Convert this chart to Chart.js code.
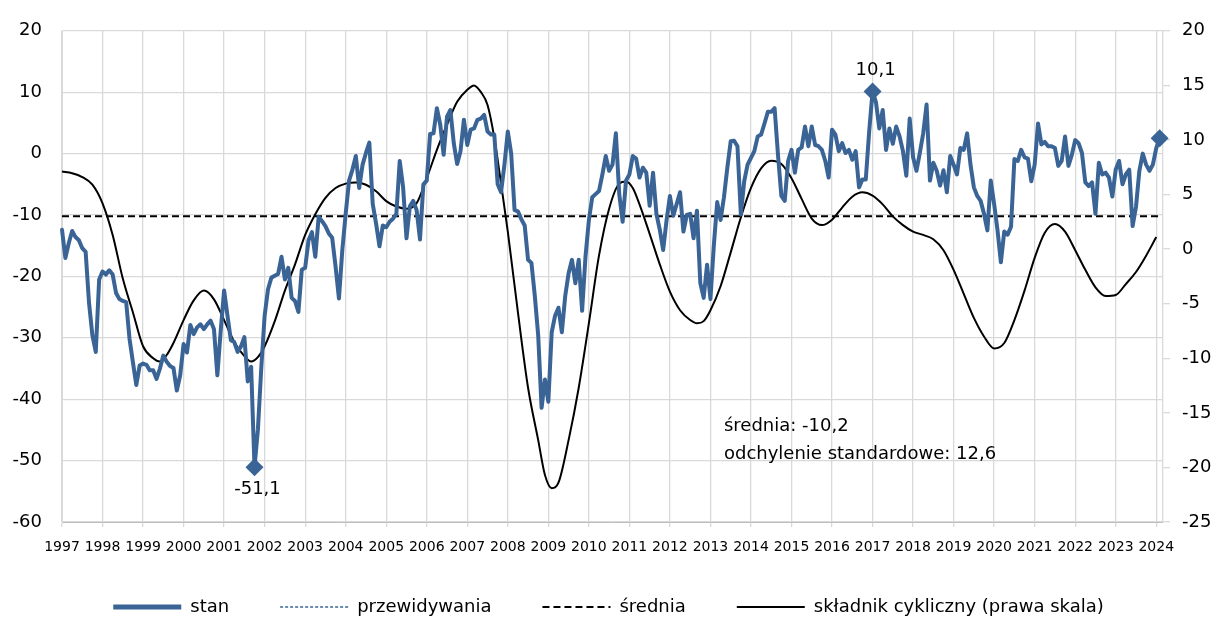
<!DOCTYPE html>
<html>
<head>
<meta charset="utf-8">
<script src="https://cdn.jsdelivr.net/npm/chart.js@4.4.1/dist/chart.umd.min.js"></script>
<style>
  html, body { margin: 0; padding: 0; background: #fff; }
  #wrap { width: 1217px; height: 621px; }
</style>
</head>
<body>
<div id="wrap"><canvas id="chart" width="1217" height="621"></canvas></div>
<script>
// Axis years and the last month on the axis
const years = [1997, 1998, 1999, 2000, 2001, 2002, 2003, 2004, 2005, 2006, 2007, 2008, 2009, 2010,
               2011, 2012, 2013, 2014, 2015, 2016, 2017, 2018, 2019, 2020, 2021, 2022, 2023, 2024];
const lastMonth = '2024-03';

// stan (monthly, from 1997-01), left scale
const stan = [
  -12.4, -17.0, -14.6, -12.6, -13.6, -14.1, -15.4, -16.0, -24.3, -29.6, -32.3, -20.5, // 1997
  -19.2, -19.7, -19.0, -19.7, -22.7, -23.7, -24.0, -24.2, -30.2, -34.0, -37.7, -34.5, // 1998
  -34.2, -34.4, -35.3, -35.3, -36.7, -35.0, -32.9, -33.9, -34.6, -34.9, -38.6, -36.1, // 1999
  -31.0, -32.4, -27.9, -29.4, -28.3, -27.8, -28.6, -27.8, -27.2, -28.6, -36.1, -28.8, // 2000
  -22.3, -26.4, -30.4, -30.7, -32.3, -31.4, -29.9, -37.1, -34.7, -51.1, -45.0, -35.0, // 2001
  -26.4, -22.1, -20.2, -19.9, -19.6, -16.8, -20.5, -18.6, -23.5, -24.0, -25.8, -18.9, // 2002
  -18.6, -14.1, -12.8, -16.8, -10.3, -11.0, -11.8, -13.0, -13.7, -18.4, -23.6, -15.7, // 2003
   -9.8,  -4.4,  -2.6,  -0.4,  -5.6,  -1.8,   0.1,   1.8,  -8.2, -11.4, -15.1, -11.7, // 2004
  -12.0, -11.1, -10.6,  -9.8,  -1.2,  -5.5, -13.8,  -8.6,  -7.7,  -9.2, -14.0,  -5.0, // 2005
   -4.4,   3.2,   3.3,   7.4,   4.7,  -0.2,   6.0,   7.1,   1.7,  -1.7,   0.4,   5.5, // 2006
    1.4,   3.9,   4.1,   5.5,   5.7,   6.3,   3.6,   3.1,   3.1,  -5.0,  -6.3,  -1.8, // 2007
    3.6,   0.0,  -9.2,  -9.4, -10.7, -11.7, -17.3, -17.8, -23.2, -29.6, -41.4, -36.8, // 2008
  -40.4, -29.1, -26.4, -25.1, -29.1, -23.2, -19.5, -17.3, -21.1, -17.3, -25.6, -16.8, // 2009
  -10.9,  -7.1,  -6.6,  -6.1,  -3.4,  -0.4,  -2.8,  -1.8,   3.3,  -6.6, -11.1,  -4.4, // 2010
   -3.4,  -0.4,  -0.8,  -3.9,  -2.3,  -3.1,  -8.5,  -3.1,  -9.8, -12.4, -15.7, -10.9, // 2011
   -6.9, -10.1,  -8.2,  -6.3, -12.7, -10.0,  -9.8, -13.8,  -9.3, -21.1, -23.5, -18.1, // 2012
  -23.7, -15.0,  -7.9, -10.8,  -7.1,  -2.3,   2.0,   2.1,   1.2,  -9.9,  -4.5,  -1.8, // 2013
   -0.7,   0.4,   2.8,   3.1,   4.9,   6.8,   6.8,   7.4,  -0.2,  -6.9,  -7.7,  -1.2, // 2014
    0.6,  -3.1,   0.6,   1.0,   4.4,   1.2,   4.4,   1.4,   1.2,   0.6,  -1.2,  -3.9, // 2015
    3.9,   3.1,   0.4,   1.7,   0.1,   0.6,  -1.0,   0.4,  -5.5,  -4.2,  -4.2,   3.6, // 2016
   10.1,   8.4,   4.1,   7.1,   0.6,   4.1,   1.6,   4.4,   2.8,   0.4,  -3.6,   5.7, // 2017
   -0.6,  -2.8,   0.1,   3.3,   8.0,  -4.4,  -1.5,  -2.8,  -5.2,  -2.7,  -6.3,  -0.4, // 2018
   -1.8,  -3.4,   0.9,   0.6,   3.3,  -1.8,  -5.5,  -6.9,  -7.7,  -9.8, -12.5,  -4.4, // 2019
   -8.2, -12.5, -17.7, -12.7, -13.2, -11.9,  -0.9,  -1.2,   0.6,  -0.6,  -0.8,  -4.5, // 2020
   -1.8,   4.9,   1.5,   1.9,   1.2,   1.2,   0.9,  -2.0,  -1.2,   2.8,  -2.0,  -0.2, // 2021
    2.2,   1.7,   0.1,  -4.7,  -5.3,  -4.7,  -9.8,  -1.5,  -3.4,  -3.1,  -3.9,  -7.0, // 2022
   -2.6,  -1.2,  -5.0,  -3.4,  -2.6, -11.8,  -8.7,  -2.8,   0.0,  -1.8,  -2.8,  -1.8, // 2023
    0.9,   2.5                                                                        // 2024
];

// months with a diamond marker on "stan"
const markedMonths = ['2001-10', '2017-01', '2024-02'];

// mean of "stan" and where its line runs
const mean = -10.2;
const meanSpan = ['1997-01', '2024-02'];

const cycleMonths = [
  '1997-01', '1997-04', '1997-07', '1997-10', '1998-01', '1998-04', '1998-07', '1998-10',
  '1999-01', '1999-04', '1999-06', '1999-08', '1999-10', '2000-01', '2000-04', '2000-07',
  '2000-10', '2001-01', '2001-04', '2001-07', '2001-09', '2001-11', '2002-01', '2002-04',
  '2002-07', '2002-10', '2003-01', '2003-04', '2003-07', '2003-10', '2004-01', '2004-04',
  '2004-07', '2004-10', '2005-01', '2005-04', '2005-07', '2005-10', '2006-01', '2006-04',
  '2006-07', '2006-10', '2007-01', '2007-03', '2007-05', '2007-07', '2007-09', '2007-11',
  '2008-01', '2008-04', '2008-07', '2008-10', '2008-12', '2009-02', '2009-04', '2009-07',
  '2009-10', '2010-01', '2010-04', '2010-07', '2010-10', '2010-12', '2011-02', '2011-04',
  '2011-07', '2011-10', '2012-01', '2012-04', '2012-07', '2012-09', '2012-11', '2013-01',
  '2013-04', '2013-07', '2013-10', '2014-01', '2014-04', '2014-07', '2014-10', '2015-01',
  '2015-04', '2015-07', '2015-10', '2016-01', '2016-04', '2016-07', '2016-10', '2017-01',
  '2017-04', '2017-07', '2017-10', '2018-01', '2018-04', '2018-07', '2018-10', '2019-01',
  '2019-04', '2019-07', '2019-10', '2020-01', '2020-04', '2020-07', '2020-10', '2021-01',
  '2021-04', '2021-07', '2021-10', '2022-01', '2022-04', '2022-07', '2022-10', '2023-01',
  '2023-04', '2023-07', '2023-10', '2024-01'
];
const cycleValues = [
   7.1,  6.95,  6.6,  5.9,  4.2,  1.3, -2.7, -5.8,
  -8.9, -10.0, -10.3, -9.7, -8.6, -6.5, -4.7, -3.8,
  -4.6,  -6.5,  -8.5, -9.8, -10.3, -9.9, -8.9, -6.6,
  -3.8,  -1.4,   1.3,  3.2,  4.7,  5.6,  6.0,  6.1,
   5.9,   5.3,   4.4,  3.9,  3.7,  4.2,  6.5,  9.1,
  11.4,  13.5,  14.6, 15.0, 14.4, 13.2, 10.2,  6.0,
   1.6,  -5.8, -12.7, -17.5, -20.7, -21.9, -21.4, -17.5,
 -12.7,  -6.8,  -0.6,  3.7,  6.0,  6.2,  5.6,  4.1,
   1.4,  -1.4,  -3.9, -5.6, -6.5, -6.8, -6.6, -5.6,
  -3.4,  -0.3,   2.9,  5.6,  7.4,  8.1,  7.8,  6.5,
   4.6,   2.8,   2.2,  2.7,  3.8,  4.8,  5.2,  4.9,
   4.1,   3.0,   2.2,  1.6,  1.3,  0.9, -0.1, -1.9,
  -4.1,  -6.3,  -8.0, -9.1, -8.6, -6.5, -3.8, -0.8,
   1.5,   2.3,   1.6, -0.1, -1.9, -3.5, -4.3, -4.2,
  -3.2,  -2.1,  -0.6,  1.1
];

const noteLines = ['średnia: -10,2', 'odchylenie standardowe: 12,6'];

// month labels for the category axis
const months = [];
years.forEach(y => {
  for (let m = 1; m <= 12; m++) months.push(y + '-' + String(m).padStart(2, '0'));
});
months.length = months.indexOf(lastMonth) + 1;

const blue = '#3a6496';
const font = '"DejaVu Sans", Verdana, sans-serif';
Chart.defaults.font.family = font;
Chart.defaults.color = '#000';

// value labels next to the marked points, and the mean/std note
const notes = {
  id: 'notes',
  afterDatasetsDraw(chart) {
    const { ctx, scales: { x, y } } = chart;
    ctx.save();
    ctx.font = '18px ' + font;
    ctx.fillStyle = '#000';
    ctx.textAlign = 'center';
    ctx.textBaseline = 'middle';
    [['2001-10', '-51,1', 22], ['2017-01', '10,1', -21]].forEach(([m, text, dy]) => {
      const i = months.indexOf(m);
      ctx.fillText(text, x.getPixelForValue(i) + 3, y.getPixelForValue(stan[i]) + dy);
    });
    ctx.textAlign = 'left';
    ctx.textBaseline = 'alphabetic';
    const nx = x.getPixelForValue(months.indexOf('2013-05'));
    const ny = y.getPixelForValue(-45.2);
    noteLines.forEach((t, k) => ctx.fillText(t, nx, ny + k * 28));
    ctx.restore();
  }
};

// legend: short box in the layout, then its top pulled up under the year labels
const legendFit = {
  id: 'legendFit',
  afterInit(chart) {
    const lg = chart.legend;
    if (!lg) return;
    const fit = lg.fit.bind(lg);
    lg.fit = function () { fit(); this.height = 60; };
  },
  afterLayout(chart) {
    const lg = chart.legend;
    if (!lg) return;
    lg.top -= 14;
    lg.height = lg.bottom - lg.top;
  }
};

new Chart(document.getElementById('chart'), {
  type: 'line',
  data: {
    labels: months,
    datasets: [
      {
        label: 'stan',
        data: stan,
        yAxisID: 'y',
        borderColor: blue,
        backgroundColor: blue,
        borderWidth: 4,
        borderJoinStyle: 'round',
        borderCapStyle: 'round',
        tension: 0,
        pointStyle: 'rectRot',
        pointRadius: c => markedMonths.includes(months[c.dataIndex]) ? 9 : 0,
        pointBorderWidth: 0,
        pointBackgroundColor: blue
      },
      {
        label: 'przewidywania',
        data: [],
        yAxisID: 'y',
        borderColor: blue,
        borderWidth: 1.5,
        borderDash: [3, 2],
        pointRadius: 0
      },
      {
        label: 'średnia',
        data: meanSpan.map(m => ({ x: m, y: mean })),
        yAxisID: 'y',
        borderColor: '#000',
        borderWidth: 1.8,
        borderDash: [7, 4],
        pointRadius: 0
      },
      {
        label: 'składnik cykliczny (prawa skala)',
        data: cycleMonths.map((m, k) => ({ x: m, y: cycleValues[k] })),
        yAxisID: 'y2',
        borderColor: '#000',
        borderWidth: 2,
        cubicInterpolationMode: 'monotone',
        pointRadius: 0
      }
    ]
  },
  options: {
    responsive: false,
    animation: false,
    events: [],
    devicePixelRatio: 1,
    layout: { padding: { top: 25, left: 0, right: 0, bottom: 0 } },
    plugins: {
      tooltip: { enabled: false },
      legend: {
        position: 'bottom',
        labels: {
          usePointStyle: true,
          pointStyle: 'line',
          pointStyleWidth: 68,
          padding: 51,
          font: { size: 18 },
          color: '#000',
          // legend lines take width, dash and colour from the dataset line
          generateLabels(chart) {
            const items = Chart.defaults.plugins.legend.labels.generateLabels(chart);
            items.forEach(it => {
              const ds = chart.data.datasets[it.datasetIndex];
              it.lineWidth = ds.borderWidth;
              it.lineDash = ds.borderDash || [];
              it.strokeStyle = ds.borderColor;
              it.lineCap = 'butt';
              it.pointStyle = 'line';
            });
            items[0].lineWidth = 5;
            return items;
          }
        }
      }
    },
    scales: {
      x: {
        type: 'category',
        grid: { color: '#d9d9d9', lineWidth: 1.3, tickLength: 5 },
        border: { color: '#bfbfbf' },
        ticks: {
          autoSkip: false,
          maxRotation: 0,
          padding: 12,
          font: { size: 14 },
          color: '#000',
          callback: (v, i) => months[i].endsWith('-01') ? months[i].slice(0, 4) : null
        },
        afterFit: s => { s.height = 39; }
      },
      y: {
        position: 'left',
        min: -60,
        max: 20,
        ticks: { stepSize: 10, padding: 20, font: { size: 18 }, color: '#000' },
        grid: { color: '#d9d9d9', lineWidth: 1.3, drawTicks: false },
        border: { color: '#d9d9d9' },
        afterFit: s => { s.width = 62; }
      },
      y2: {
        position: 'right',
        min: -25,
        max: 20,
        ticks: { stepSize: 5, padding: 12, font: { size: 18 }, color: '#000' },
        grid: { drawOnChartArea: false, tickLength: 7, color: '#d9d9d9', lineWidth: 1.3 },
        border: { color: '#d9d9d9', width: 1.3 },
        afterFit: s => { s.width = 54; }
      }
    }
  },
  plugins: [notes, legendFit]
});
</script>
</body>
</html>
